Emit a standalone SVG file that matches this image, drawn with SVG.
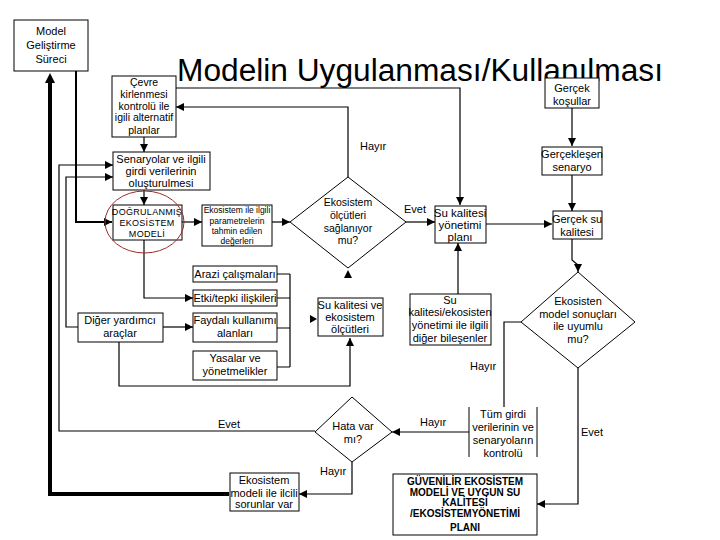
<svg xmlns="http://www.w3.org/2000/svg" width="720" height="540" viewBox="0 0 720 540">
<defs>
<marker id="ah" viewBox="0 0 8 8" refX="8" refY="4" markerWidth="8" markerHeight="8" markerUnits="userSpaceOnUse" orient="auto"><path d="M0,0 L8,4 L0,8 z" fill="#000"/></marker>
<marker id="ahT" viewBox="0 0 10 10" refX="0" refY="5" markerWidth="10" markerHeight="10" markerUnits="userSpaceOnUse" orient="auto"><path d="M0,0 L10,5 L0,10 z" fill="#000"/></marker>
<style>
.b{fill:#fff;stroke:#000;stroke-width:1}
.t{font-family:"Liberation Sans",Arial,sans-serif;font-size:11px;fill:#000;text-anchor:middle}
.s{font-size:9px}
.bd{font-weight:bold;font-size:10px}
.c{fill:none;stroke:#000;stroke-width:1.2}
.a{marker-end:url(#ah)}
.l{font-family:"Liberation Sans",Arial,sans-serif;font-size:11px;fill:#000}
</style>
</defs>
<rect width="720" height="540" fill="#fff"/>
<text x="177" y="81" font-family="'Liberation Sans',Arial,sans-serif" font-size="31" textLength="486" lengthAdjust="spacingAndGlyphs">Modelin Uygulanması/Kullanılması</text>
<g id="connectors">
<path class="c" d="M229,494 H50 V83" style="stroke-width:4" marker-end="url(#ahT)"/>
<path class="c a" d="M76,71 V222 H112" style="stroke-width:2"/>
<path class="c a" d="M176,88 H460 V205"/>
<path class="c a" d="M348,177 V107 H176"/>
<path class="c a" d="M144,137 V152"/>
<path class="c a" d="M144,190 V205"/>
<path class="c a" d="M182,222 H202"/>
<path class="c a" d="M272,222 H290"/>
<path class="c a" d="M144,240 V298 H193"/>
<path class="c a" d="M315,431 H59 V165 H113"/>
<path class="c a" d="M78,327 H66 V177 H113"/>
<path class="c a" d="M163,327 H193"/>
<path class="c a" d="M119,342 V386 H350 V338"/>
<path class="c" d="M277,274 H290 M277,298 H290 M277,328 H290 M277,367 H290 M290,274 V367"/>
<path d="M348,270 L352,278 L344,278 z" fill="#000"/>
<path d="M317,319 L310,315 L310,323 z" fill="#000"/>
<path class="c a" d="M406,222 H435"/>
<path class="c a" d="M458,294 V243"/>
<path class="c a" d="M486,224 H552"/>
<path class="c a" d="M572,108 V146"/>
<path class="c a" d="M572,175 V211"/>
<path class="c a" d="M572,239 V260 L578,265 V272"/>
<path class="c" d="M521,322 H504 V407"/>
<path class="c a" d="M469,432 H392"/>
<path class="c a" d="M352,462 V494 H299"/>
<path class="c a" d="M578,368 V504 H537"/>
<text class="l" x="360" y="150">Hayır</text>
<text class="l" x="404" y="213">Evet</text>
<text class="l" x="470" y="370">Hayır</text>
<text class="l" x="420" y="426">Hayır</text>
<text class="l" x="218" y="428">Evet</text>
<text class="l" x="320" y="475">Hayır</text>
<text class="l" x="581" y="436">Evet</text>
</g>
<g id="model-gelistirme"><rect class="b" x="14" y="20" width="74" height="51"/><text class="t" x="51" y="35">Model</text><text class="t" x="51" y="49">Geliştirme</text><text class="t" x="51" y="63">Süreci</text></g>
<g id="cevre"><rect class="b" x="112" y="76" width="64" height="61"/><text class="t" x="144" y="86" style="font-size:10.5px">Çevre</text><text class="t" x="144" y="98" style="font-size:10.5px">kirlenmesi</text><text class="t" x="144" y="110" style="font-size:10.5px">kontrolü ile</text><text class="t" x="144" y="121" style="font-size:10.5px">igili alternatif</text><text class="t" x="144" y="134" style="font-size:10.5px">planlar</text></g>
<g id="gercek-kosullar"><rect class="b" x="545" y="78" width="54" height="30"/><text class="t" x="572" y="92">Gerçek</text><text class="t" x="572" y="105">koşullar</text></g>
<g id="senaryolar"><rect class="b" x="113" y="152" width="97" height="38"/><text class="t" x="161" y="163">Senaryolar ve ilgili</text><text class="t" x="161" y="175">girdi verilerinin</text><text class="t" x="161" y="187">oluşturulmesi</text></g>
<g id="dogrulanmis"><rect class="b" x="113" y="205" width="69" height="35"/><text class="t s" x="147" y="215" letter-spacing="0.3">DOĞRULANMIŞ</text><text class="t s" x="147" y="226" letter-spacing="0.3">EKOSİSTEM</text><text class="t s" x="147" y="237" letter-spacing="0.3">MODELİ</text><ellipse cx="144.5" cy="222" rx="39.5" ry="31" fill="none" stroke="#a02a2a" stroke-width="1"/></g>
<g id="parametreler"><rect class="b" x="202" y="205" width="70" height="41"/><text class="t" x="237" y="213" style="font-size:8.5px">Ekosistem ile ilgili</text><text class="t" x="237" y="224" style="font-size:8.5px">parametrelerin</text><text class="t" x="237" y="234" style="font-size:8.5px">tahmin edilen</text><text class="t" x="237" y="244" style="font-size:8.5px">değerleri</text></g>
<g id="olcutler-karar"><path class="b" d="M348,177 L406,222 L348,268 L290,222 z"/><text class="t" x="348" y="206" style="font-size:10.5px">Ekosistem</text><text class="t" x="348" y="219" style="font-size:10.5px">ölçütleri</text><text class="t" x="348" y="232" style="font-size:10.5px">sağlanıyor</text><text class="t" x="348" y="244" style="font-size:10.5px">mu?</text></g>
<g id="su-kalitesi-plani"><rect class="b" x="435" y="206" width="51" height="37"/><text class="t" x="460" y="217" style="font-size:11.5px">Su kalitesi</text><text class="t" x="460" y="229" style="font-size:11.5px">yönetimi</text><text class="t" x="460" y="241" style="font-size:11.5px">planı</text></g>
<g id="gerceklesen"><rect class="b" x="542" y="147" width="60" height="28"/><text class="t" x="572" y="158">Gerçekleşen</text><text class="t" x="572" y="171">senaryo</text></g>
<g id="gercek-su"><rect class="b" x="553" y="211" width="49" height="28"/><text class="t" x="577" y="223">Gerçek su</text><text class="t" x="577" y="236">kalitesi</text></g>
<g id="arazi"><rect class="b" x="193" y="266" width="84" height="16"/><text class="t" x="235" y="278">Arazi çalışmaları</text></g>
<g id="etki"><rect class="b" x="193" y="290" width="84" height="16"/><text class="t" x="235" y="302">Etki/tepki ilişkileri</text></g>
<g id="faydali"><rect class="b" x="193" y="313" width="84" height="29"/><text class="t" x="235" y="324">Faydalı kullanımı</text><text class="t" x="235" y="337">alanları</text></g>
<g id="yasalar"><rect class="b" x="193" y="351" width="84" height="29"/><text class="t" x="235" y="362">Yasalar ve</text><text class="t" x="235" y="375">yönetmelikler</text></g>
<g id="diger"><rect class="b" x="78" y="313" width="85" height="29"/><text class="t" x="120" y="324">Diğer yardımcı</text><text class="t" x="120" y="337">araçlar</text></g>
<g id="su-olcutleri"><rect class="b" x="318" y="298" width="65" height="38"/><text class="t" x="350" y="309">Su kalitesi ve</text><text class="t" x="350" y="321">ekosistem</text><text class="t" x="350" y="333">ölçütleri</text></g>
<g id="bilesenler"><rect class="b" x="410" y="294" width="81" height="51"/><text class="t" x="450" y="304">Su</text><text class="t" x="450" y="316">kalitesi/ekosisten</text><text class="t" x="450" y="329">yönetimi ile ilgili</text><text class="t" x="450" y="342">diğer bileşenler</text></g>
<g id="uyumlu-karar"><path class="b" d="M578,272 L635,322 L578,368 L521,322 z"/><text class="t" x="578" y="305">Ekosisten</text><text class="t" x="578" y="318">model sonuçları</text><text class="t" x="578" y="330">ile uyumlu</text><text class="t" x="578" y="343">mu?</text></g>
<g id="tum-girdi"><path class="c" d="M469,407 V457 M537,407 V457" style="stroke-width:1"/><text class="t" x="503" y="418">Tüm girdi</text><text class="t" x="503" y="431">verilerinin ve</text><text class="t" x="503" y="444">senaryoların</text><text class="t" x="503" y="457">kontrolü</text></g>
<g id="hata-karar"><path class="b" d="M352,397 L392,432 L352,462 L315,432 z"/><text class="t" x="353" y="430">Hata var</text><text class="t" x="353" y="443">mı?</text></g>
<g id="sorunlar"><rect class="b" x="230" y="473" width="69" height="38"/><text class="t" x="264" y="484">Ekosistem</text><text class="t" x="264" y="497">modeli ile ilcili</text><text class="t" x="264" y="508">sorunlar var</text></g>
<g id="guvenilir"><rect class="b" x="393" y="474" width="144" height="61"/><text class="t bd" x="465" y="485">GÜVENİLİR EKOSİSTEM</text><text class="t bd" x="465" y="496">MODELİ VE UYGUN SU</text><text class="t bd" x="465" y="506">KALİTESİ</text><text class="t bd" x="465" y="517">/EKOSİSTEMYÖNETİMİ</text><text class="t bd" x="465" y="531">PLANI</text></g>
</svg>
